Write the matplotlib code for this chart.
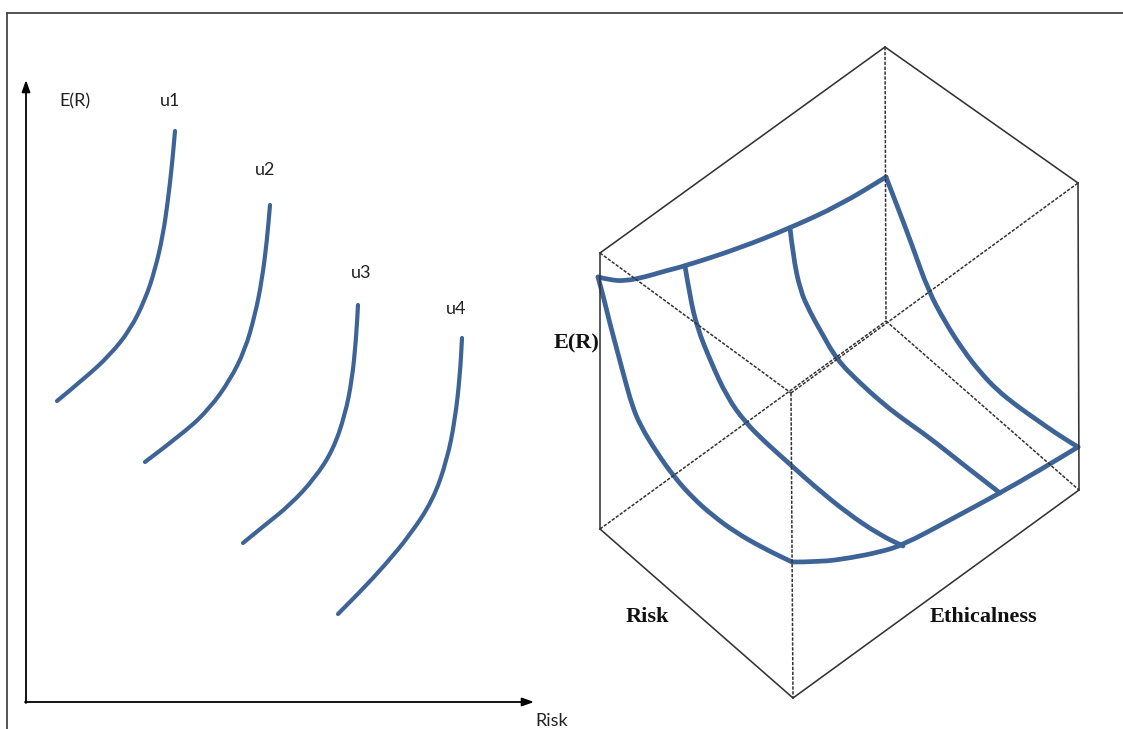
import matplotlib
matplotlib.use("Agg")
import matplotlib.pyplot as plt
from matplotlib.path import Path
from matplotlib.patches import PathPatch

W, H = 1123, 729
BLUE = "#3e6497"

# ---- left panel: indifference curves (pixel-space diagram coordinates) ----
u_labels = ["u1", "u2", "u3", "u4"]
u1_x = [57, 85, 110, 130, 145, 155, 163, 168, 172, 175]
u1_y = [401, 378, 355, 330, 300, 270, 235, 200, 165, 131]
u2_x = [145, 185, 210, 230, 245, 255, 262, 267, 270]
u2_y = [462, 432, 408, 380, 350, 315, 280, 240, 205]
u3_x = [243, 265, 290, 315, 333, 345, 352, 356, 358]
u3_y = [543, 525, 505, 478, 450, 415, 380, 340, 305]
u4_x = [338, 360, 385, 410, 433, 447, 455, 460, 462]
u4_y = [614, 592, 565, 535, 500, 460, 420, 375, 338]
u_label_pos = [(170, 101), (265, 170), (361, 273), (456, 309)]

# ---- right panel: 3D box vertices ----
L_T, B_T, R_T, F_T = (600, 253), (885, 47), (1078, 183), (791, 393)
L_B, B_B, F_B, R_B = (600, 529), (886, 321), (793, 698), (1079, 490)
solid_edges = [(L_T, B_T), (B_T, R_T), (R_T, R_B), (L_T, L_B), (L_B, F_B), (F_B, R_B)]
dashed_edges = [(L_T, F_T), (F_T, R_T), (F_T, F_B), (L_B, B_B), (B_B, R_B), (B_T, B_B)]

# surface curves
top_x = [598, 610, 625, 645, 665, 685, 740, 790, 840, 886]
top_y = [277, 280, 281, 277, 271, 266, 248, 228, 205, 177]
right_x = [886, 898, 912, 928, 945, 963, 980, 997, 1017, 1037, 1057, 1078]
right_y = [177, 208, 245, 290, 322, 350, 372, 390, 406, 420, 434, 447]
bottom_x = [792, 820, 850, 880, 903, 950, 1000, 1040, 1078]
bottom_y = [562, 562, 558, 552, 545, 520, 493, 470, 447]
left_x = [598, 603, 609, 617, 625, 632, 640, 657, 675, 693, 712, 735, 763, 792]
left_y = [277, 295, 320, 350, 380, 405, 425, 453, 478, 498, 515, 532, 548, 562]
inner1_x = [685, 690, 697, 710, 727, 745, 765, 792, 813, 847, 880, 903]
inner1_y = [266, 297, 327, 360, 397, 422, 442, 466, 485, 513, 535, 546]
inner2_x = [790, 793, 800, 810, 820, 837, 860, 880, 900, 930, 960, 1000]
inner2_y = [228, 255, 290, 312, 330, 360, 383, 401, 417, 438, 462, 493]


def smooth_curve(ax, xs, ys, lw):
    """Draw a smooth quadratic-Bezier path guided by the read points."""
    pts = list(zip(xs, ys))
    verts = [pts[0]]
    codes = [Path.MOVETO]
    for i in range(1, len(pts) - 1):
        mid = ((pts[i][0] + pts[i + 1][0]) / 2, (pts[i][1] + pts[i + 1][1]) / 2)
        verts += [pts[i], mid]
        codes += [Path.CURVE3, Path.CURVE3]
    verts.append(pts[-1])
    codes.append(Path.LINETO)
    ax.add_patch(PathPatch(Path(verts, codes), facecolor="none", edgecolor=BLUE,
                           lw=lw, capstyle="round", joinstyle="round"))


fig = plt.figure(figsize=(W / 100, H / 100), dpi=100)
ax = fig.add_axes([0, 0, 1, 1])
ax.set_xlim(0, W)
ax.set_ylim(H, 0)
ax.axis("off")

# outer frame
ax.plot([7, W], [13, 13], color="#444444", lw=1.3)
ax.plot([7, 7], [13, H], color="#444444", lw=1.3)

# left axes arrows
ax.annotate("", xy=(26, 80), xytext=(26, 703),
            arrowprops=dict(arrowstyle="-|>,head_length=0.7,head_width=0.25", color="black", lw=1.3, shrinkA=0, shrinkB=0))
ax.annotate("", xy=(534, 702), xytext=(25, 702),
            arrowprops=dict(arrowstyle="-|>,head_length=0.7,head_width=0.25", color="black", lw=1.3, shrinkA=0, shrinkB=0))

for xs, ys in [(u1_x, u1_y), (u2_x, u2_y), (u3_x, u3_y), (u4_x, u4_y)]:
    smooth_curve(ax, xs, ys, 3.0)

sans = dict(family=["Lato", "DejaVu Sans"], fontsize=13, color="#222222", ha="center", va="center")
ax.text(75, 101, "E(R)", **sans)
for lab, (x, y) in zip(u_labels, u_label_pos):
    ax.text(x, y, lab, **sans)
ax.text(552, 721, "Risk", **sans)

# 3D box
for (p, q) in solid_edges:
    ax.plot([p[0], q[0]], [p[1], q[1]], color="#333333", lw=1.15)
for (p, q) in dashed_edges:
    ax.plot([p[0], q[0]], [p[1], q[1]], color="#333333", lw=1.1, linestyle=(0, (2.2, 1.0)))

for xs, ys in [(top_x, top_y), (right_x, right_y), (bottom_x, bottom_y),
               (left_x, left_y), (inner1_x, inner1_y), (inner2_x, inner2_y)]:
    smooth_curve(ax, xs, ys, 3.4)

serif = dict(family=["Liberation Serif", "DejaVu Serif"], fontsize=16, fontweight="bold",
             color="#111111", ha="center", va="center")
ax.text(577, 343, "E(R)", **serif)
ax.text(647, 617, "Risk", **serif)
ax.text(983, 617, "Ethicalness", **serif)

fig.savefig("out.png", dpi=100)
